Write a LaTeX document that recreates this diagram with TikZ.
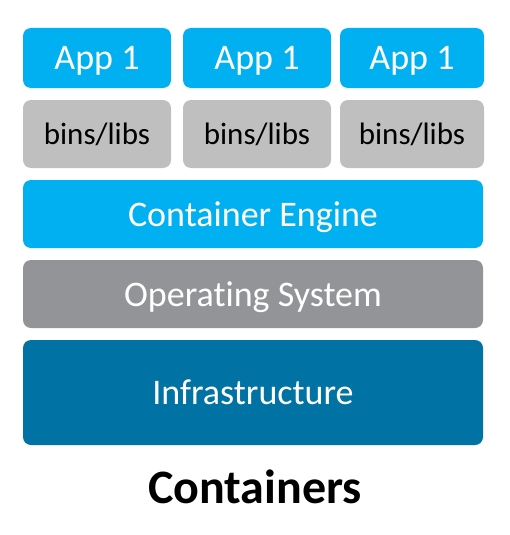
\documentclass[tikz,border=0pt]{standalone}
\usepackage{fontspec}
\setmainfont[Ligatures=NoCommon]{Carlito}
\definecolor{appblue}{RGB}{0,176,240}
\definecolor{libgray}{RGB}{191,191,191}
\definecolor{osgray}{RGB}{146,148,151}
\definecolor{infrablue}{RGB}{0,114,163}
\begin{document}
\begin{tikzpicture}[x=1pt,y=-1pt,
        layer/.style={rounded corners=8pt,inner sep=0pt,text depth=0pt,minimum height=68pt,font=\fontsize{36}{40}\selectfont},
        app/.style={layer,fill=appblue,text=white,minimum height=60pt,font=\fontsize{36}{40}\selectfont},
        libs/.style={layer,fill=libgray,text=black,font=\fontsize{31}{34}\selectfont}]
        \useasboundingbox (0,0) rectangle (510,535);
        \node[app,minimum width=148pt] (app1) at (97,58) {App 1};
        \node[app,minimum width=148pt] (app2) at (257,58) {App 1};
        \node[app,minimum width=144pt] (app3) at (412,58) {App 1};
        \node[libs,minimum width=148pt] (libs1) at (97,134) {bins/libs};
        \node[libs,minimum width=148pt] (libs2) at (257,134) {bins/libs};
        \node[libs,minimum width=144pt] (libs3) at (412,134) {bins/libs};
        \node[layer,fill=appblue,text=white,minimum width=460pt] (engine) at (253,214) {Container Engine};
        \node[layer,fill=osgray,text=white,minimum width=460pt] (os) at (253,294) {Operating System};
        \node[layer,fill=infrablue,text=white,minimum width=460pt,minimum height=105pt] (infra) at (253,392.5) {Infrastructure};
        \node[text depth=0pt,font=\fontsize{48}{52}\selectfont\bfseries] (title) at (255,487) {Containers};
\end{tikzpicture}
\end{document}
